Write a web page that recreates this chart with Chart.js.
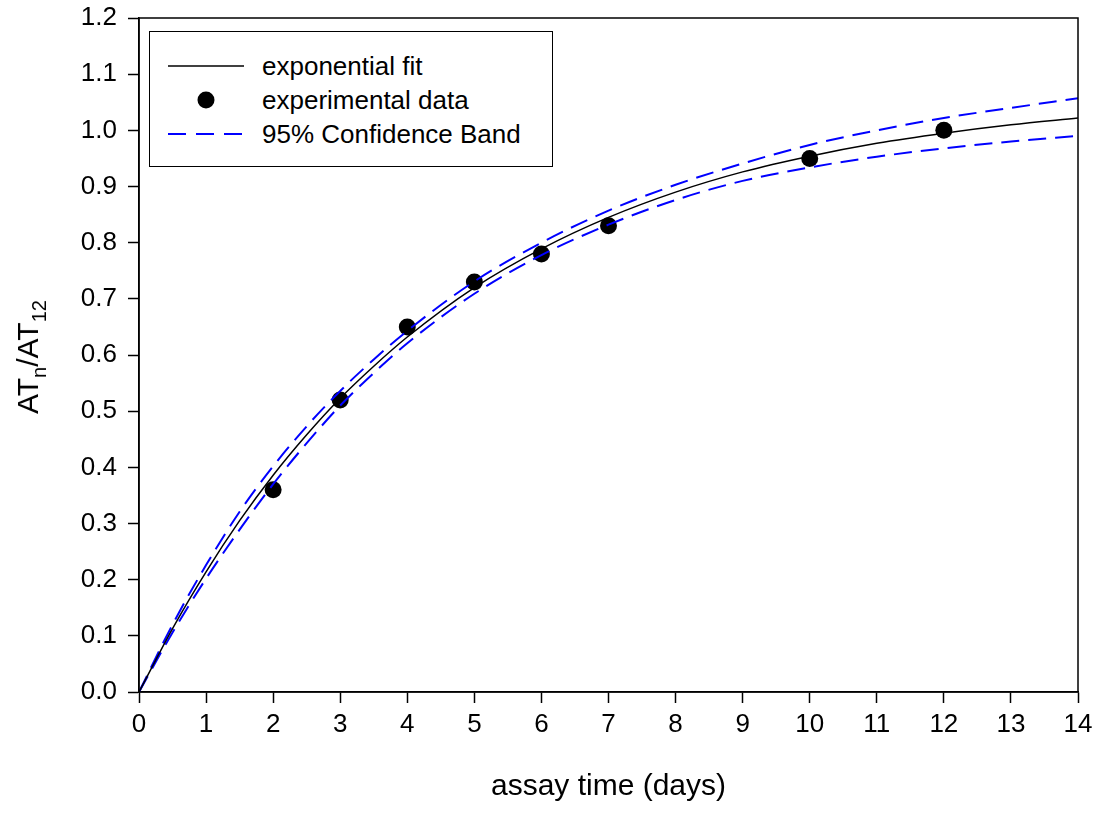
<!DOCTYPE html>
<html>
<head>
<meta charset="utf-8">
<script src="https://cdn.jsdelivr.net/npm/chart.js@4/dist/chart.umd.min.js"></script>
<style>
  html, body { margin: 0; padding: 0; background: #fff; }
  #wrap { position: relative; width: 1101px; height: 816px; font-family: "Liberation Sans", Arial, sans-serif; }
  canvas { position: absolute; left: 0; top: 0; }
  #ytitle { position: absolute; left: 28px; top: 357px; transform: translate(-50%, -50%) rotate(-90deg); font-size: 30px; white-space: nowrap; color: #000; }
  #ytitle sub { font-size: 20px; vertical-align: -8px; line-height: 0; }
  #legend { position: absolute; left: 149px; top: 31px; width: 402px; height: 134px; border: 1.5px solid #000; background: #fff; font-size: 26px; color: #000; }
  .row { position: absolute; left: 0; height: 30px; width: 100%; }
  .row span { position: absolute; left: 112px; top: 0; line-height: 30px; }
  .row svg { position: absolute; left: 18px; top: 0; }
</style>
</head>
<body>
<div id="wrap">
  <canvas id="c" width="1101" height="816"></canvas>
  <div id="ytitle">AT<sub>n</sub>/AT<sub>12</sub></div>
  <div id="legend">
    <div class="row" style="top:19px"><svg width="80" height="30"><line x1="0" y1="15" x2="76" y2="15" stroke="#000" stroke-width="1.5"/></svg><span>exponential fit</span></div>
    <div class="row" style="top:53px"><svg width="80" height="30"><circle cx="38" cy="15" r="8.5" fill="#000"/></svg><span>experimental data</span></div>
    <div class="row" style="top:87px"><svg width="80" height="30"><line x1="0" y1="15" x2="76" y2="15" stroke="#0000ff" stroke-width="2" stroke-dasharray="18,10"/></svg><span>95% Confidence Band</span></div>
  </div>
</div>
<script>
// experimental data
const dataX = [2, 3, 4, 5, 6, 7, 10, 12];
const dataY = [0.36, 0.52, 0.65, 0.73, 0.78, 0.83, 0.95, 1.00];

// curves
const curveX   = [0, 0.5, 1, 1.5, 2, 2.5, 3, 3.5, 4, 5, 6, 7, 8, 9, 10, 11, 12, 13, 14];
const fitY     = [0, 0.113, 0.214, 0.305, 0.386, 0.458, 0.523, 0.580, 0.632, 0.720, 0.789, 0.845, 0.890, 0.926, 0.954, 0.977, 0.995, 1.010, 1.022];
const upperY   = [0, 0.120, 0.226, 0.321, 0.402, 0.473, 0.536, 0.592, 0.643, 0.731, 0.800, 0.857, 0.903, 0.941, 0.974, 1.000, 1.022, 1.040, 1.057];
const lowerY   = [0, 0.106, 0.202, 0.289, 0.370, 0.443, 0.510, 0.568, 0.621, 0.709, 0.778, 0.832, 0.876, 0.910, 0.934, 0.953, 0.968, 0.980, 0.990];

const xTitle = "assay time (days)";

const pts = (xs, ys) => xs.map((x, i) => ({x: x, y: ys[i]}));
const FONT = "'Liberation Sans', Arial, sans-serif";

const boxPlugin = {
  id: 'box',
  afterDraw(chart) {
    const a = chart.chartArea, ctx = chart.ctx;
    ctx.save();
    ctx.strokeStyle = '#000';
    ctx.lineWidth = 1.5;
    ctx.strokeRect(a.left, a.top, a.right - a.left, a.bottom - a.top);
    ctx.restore();
  }
};

new Chart(document.getElementById('c'), {
  type: 'scatter',
  data: {
    datasets: [
      { label: 'exponential fit', data: pts(curveX, fitY), showLine: true, borderColor: '#000', borderWidth: 1.5, pointRadius: 0, cubicInterpolationMode: 'monotone', fill: false },
      { label: '95% Confidence Band', data: pts(curveX, upperY), showLine: true, borderColor: '#0000ff', borderWidth: 2, borderDash: [18, 9], pointRadius: 0, cubicInterpolationMode: 'monotone', fill: false },
      { label: '95% Confidence Band', data: pts(curveX, lowerY), showLine: true, borderColor: '#0000ff', borderWidth: 2, borderDash: [18, 9], pointRadius: 0, cubicInterpolationMode: 'monotone', fill: false },
      { label: 'experimental data', data: pts(dataX, dataY), showLine: false, pointRadius: 8.5, pointBackgroundColor: '#000', pointBorderColor: '#000', pointBorderWidth: 0 }
    ]
  },
  options: {
    responsive: false,
    animation: false,
    devicePixelRatio: 1,
    layout: { padding: { top: 18, right: 23, left: 0, bottom: 0 } },
    plugins: { legend: { display: false }, tooltip: { enabled: false } },
    scales: {
      x: {
        type: 'linear', min: 0, max: 14,
        afterFit(s) { s.height = 124; s.paddingLeft = 0; s.paddingRight = 0; },
        ticks: { stepSize: 1, color: '#000', font: { family: FONT, size: 26 }, padding: 6, maxRotation: 0 },
        grid: { drawOnChartArea: false, color: '#000', tickLength: 11, tickWidth: 1.5 },
        border: { display: true, color: '#000', width: 1.5 },
        title: { display: true, text: xTitle, color: '#000', font: { family: FONT, size: 30 }, padding: { top: 0, bottom: 11 } }
      },
      y: {
        min: 0, max: 1.2,
        afterFit(s) { s.width = 139; s.paddingTop = 0; s.paddingBottom = 0; },
        ticks: { stepSize: 0.1, color: '#000', font: { family: FONT, size: 26 }, padding: 11, callback: v => v.toFixed(1) },
        grid: { drawOnChartArea: false, color: '#000', tickLength: 11, tickWidth: 1.5 },
        border: { display: true, color: '#000', width: 1.5 }
      }
    }
  },
  plugins: [boxPlugin]
});
</script>
</body>
</html>
